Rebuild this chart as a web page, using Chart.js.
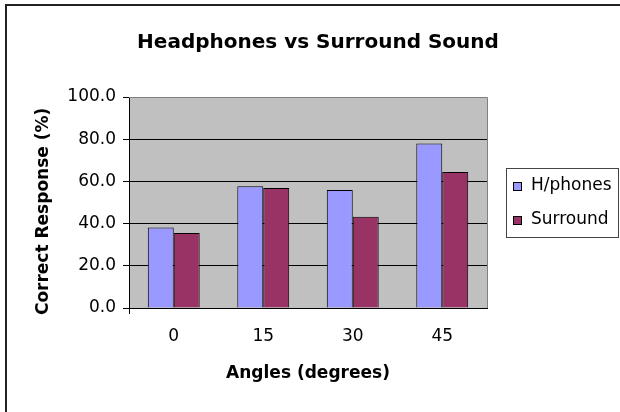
<!DOCTYPE html>
<html>
<head>
<meta charset="utf-8">
<script src="https://cdn.jsdelivr.net/npm/chart.js@4.4.0/dist/chart.umd.min.js"></script>
<style>
    html, body { margin: 0; padding: 0; background: #fff; }
    #wrap { width: 620px; height: 412px; }
</style>
</head>
<body>
<div id="wrap"><canvas id="myChart" width="620" height="412"></canvas></div>
<script>
    const categories = ['0', '15', '30', '45'];
    const headphones = [38.2, 57.7, 55.9, 78.0];
    const surround = [35.5, 56.9, 43.3, 64.5];
    const seriesNames = ['H/phones', 'Surround'];
    const seriesColors = ['#9999FF', '#993366'];

    const FONT = "'DejaVu Sans', sans-serif";

    // plot background, outer frame, legend box
    const framePlugin = {
        id: 'frame',
        beforeDraw: function (chart) {
            const ctx = chart.ctx, a = chart.chartArea;
            ctx.save();
            ctx.fillStyle = '#fff';
            ctx.fillRect(0, 0, chart.width, chart.height);
            ctx.fillStyle = '#C0C0C0';
            ctx.fillRect(a.left, a.top, a.right - a.left, a.bottom - a.top);
            ctx.restore();
        },
        afterDraw: function (chart) {
            const ctx = chart.ctx, a = chart.chartArea;
            ctx.save();
            // plot border top / right
            ctx.strokeStyle = '#808080';
            ctx.lineWidth = 1;
            ctx.beginPath();
            ctx.moveTo(a.left, a.top + 0.5);
            ctx.lineTo(a.right + 0.5, a.top + 0.5);
            ctx.lineTo(a.right + 0.5, a.bottom);
            ctx.stroke();
            // y axis line runs a bit below the x axis
            ctx.strokeStyle = '#000';
            ctx.beginPath();
            ctx.moveTo(a.left + 0.5, a.bottom);
            ctx.lineTo(a.left + 0.5, a.bottom + 6);
            ctx.stroke();
            // outer chart frame
            ctx.strokeStyle = '#222';
            ctx.lineWidth = 2;
            ctx.beginPath();
            ctx.moveTo(6, chart.height);
            ctx.lineTo(6, 5);
            ctx.lineTo(chart.width, 5);
            ctx.stroke();
            // legend
            ctx.lineWidth = 1;
            ctx.strokeStyle = '#444';
            ctx.strokeRect(506.5, 168.5, 112, 69);
            ctx.font = '17px ' + FONT;
            ctx.textBaseline = 'middle';
            ctx.textAlign = 'left';
            chart.data.datasets.forEach(function (ds, i) {
                const y = 186 + i * 34;
                ctx.fillStyle = ds.backgroundColor;
                ctx.fillRect(513, y - 4, 8, 8);
                ctx.strokeStyle = '#000';
                ctx.strokeRect(513.5, y - 3.5, 8, 8);
                ctx.fillStyle = '#000';
                ctx.fillText(ds.label, 531, y);
            });
            ctx.restore();
        }
    };

    new Chart(document.getElementById('myChart'), {
        type: 'bar',
        data: {
            labels: categories,
            datasets: [
                { label: seriesNames[0], data: headphones, backgroundColor: seriesColors[0] },
                { label: seriesNames[1], data: surround, backgroundColor: seriesColors[1] }
            ]
        },
        options: {
            responsive: false,
            animation: false,
            devicePixelRatio: 1,
            layout: { padding: { left: 16, right: 0, top: 0, bottom: 0 } },
            datasets: {
                bar: {
                    borderColor: '#000',
                    borderWidth: 1,
                    categoryPercentage: 0.58,
                    barPercentage: 1
                }
            },
            plugins: {
                legend: { display: false },
                tooltip: { enabled: false },
                title: {
                    display: true,
                    text: 'Headphones vs Surround Sound',
                    color: '#000',
                    font: { family: FONT, size: 20, weight: 'bold' },
                    padding: { top: 31, bottom: 42 }
                }
            },
            scales: {
                x: {
                    afterFit: function (scale) { scale.height = 104; },
                    grid: { display: false, drawTicks: false },
                    border: { display: true, color: '#000', width: 1 },
                    ticks: { color: '#000', padding: 18, font: { family: FONT, size: 17 } },
                    title: {
                        display: true,
                        text: 'Angles (degrees)',
                        color: '#000',
                        font: { family: FONT, size: 17, weight: 'bold' },
                        padding: { top: 0, bottom: 28 }
                    }
                },
                y: {
                    min: 0,
                    max: 100,
                    afterFit: function (scale) { scale.width = 113; },
                    grid: {
                        color: function (c) { return c.tick && c.tick.value === 100 ? 'rgba(0,0,0,0)' : '#000'; },
                        tickColor: '#000',
                        tickLength: 6
                    },
                    border: { display: true, color: '#000', width: 1 },
                    ticks: {
                        stepSize: 20,
                        color: '#000',
                        padding: 7,
                        font: { family: FONT, size: 17 },
                        callback: function (v) { return v.toFixed(1); }
                    },
                    title: {
                        display: true,
                        // trailing spaces push the rotated text a little lower, as in the original
                        text: 'Correct Response (%)   ',
                        color: '#000',
                        font: { family: FONT, size: 17, weight: 'bold' },
                        padding: { top: 17, bottom: 0 }
                    }
                },
                yRight: {
                    position: 'right',
                    display: true,
                    afterFit: function (scale) { scale.width = 133; },
                    grid: { display: false, drawTicks: false },
                    border: { display: false },
                    ticks: { display: false }
                }
            }
        },
        plugins: [framePlugin]
    });
</script>
</body>
</html>
